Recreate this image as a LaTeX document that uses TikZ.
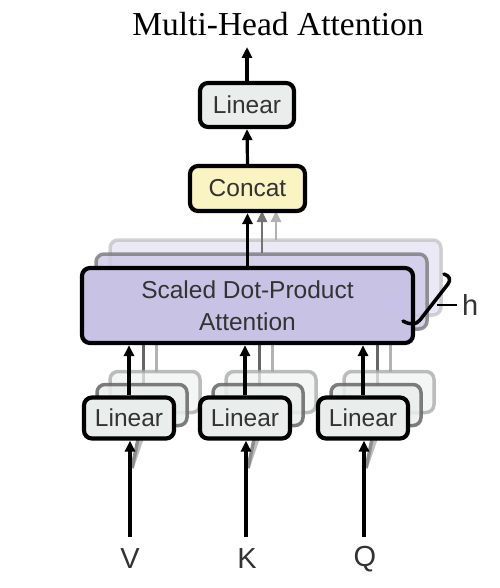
\documentclass[tikz,border=0pt]{standalone}
\usepackage{fontspec}
\setmainfont{Liberation Serif}
\setsansfont{Liberation Sans}
\usetikzlibrary{arrows.meta}
\definecolor{linfill}{HTML}{E9EEEC}
\definecolor{catfill}{HTML}{FAF4C2}
\definecolor{attfill}{HTML}{C8C2E4}
\definecolor{txt}{HTML}{333333}
\tikzset{
  box/.style={draw=black, line width=4.2pt, rounded corners=8pt, inner sep=0pt,
    font=\sffamily\fontsize{24.5}{32}\selectfont, text=txt, align=center},
  linbox/.style={box, fill=linfill, minimum width=90pt, minimum height=41pt},
  shadowA/.style={draw=black!60, fill=linfill, line width=3.5pt, rounded corners=8pt, minimum width=90pt, minimum height=41pt, inner sep=0pt, opacity=0.85},
  shadowB/.style={draw=black!35, fill=linfill!70, line width=3.5pt, rounded corners=8pt, minimum width=90pt, minimum height=41pt, inner sep=0pt, opacity=0.75},
  ashadowA/.style={draw=black!50, fill=attfill!85, line width=3.5pt, rounded corners=8pt, minimum width=331pt, minimum height=75pt, inner sep=0pt, opacity=0.85},
  ashadowB/.style={draw=black!25, fill=attfill!50, line width=3.5pt, rounded corners=8pt, minimum width=331pt, minimum height=75pt, inner sep=0pt, opacity=0.7},
  arr/.style={line width=3.2pt, -{Triangle[length=11pt,width=10pt]}},
  lbl/.style={font=\sffamily\fontsize{29}{31}\selectfont, text=txt},
}
\begin{document}
\begin{tikzpicture}[x=1pt,y=-1pt]
\useasboundingbox (0,0) rectangle (499,588);
\node[font=\fontsize{33.5}{36}\selectfont] (title) at (278,24) {Multi-Head Attention};

% attention shadows
\node[ashadowB] (att2) at (275.5,277.5) {};
\node[ashadowA] (att1) at (261.5,291.5) {};

% arrows into concat
\coordinate (c2) at (276,211);
\coordinate (c1) at (262,211);
\draw[arr, draw=black!30, fill=black!30, line width=2.8pt] (276,240) -- (c2);
\draw[arr, draw=black!55, fill=black!55, line width=2.8pt] (262,253) -- (c1);

% linear shadows and their lines
\foreach \cx/\n in {129/V,245/K,363/Q}{
  \draw[black!30, line width=3pt] (\cx+27,372) -- (\cx+27,343);
  \draw[black!60, line width=3pt] (\cx+14,385) -- (\cx+14,343);
  \draw[black!25, line width=3.5pt] (\cx+3,468) -- (\cx+22,412);
  \draw[black!45, line width=3.5pt] (\cx+3,468) -- (\cx+12,425);
  \node[shadowB] (\n2) at (\cx+26,392) {};
  \node[shadowA] (\n1) at (\cx+13,405) {};
}

% main attention box
\node[box, fill=attfill, minimum width=331pt, minimum height=75pt] (att) at (247.5,305.5) {Scaled Dot-Product\\Attention};

% top boxes
\node[box, fill=catfill, minimum width=115pt, minimum height=45pt] (concat) at (247.5,188.5) {Concat};
\node[linbox, minimum width=94pt, minimum height=44pt] (lintop) at (247,105) {Linear};
\coordinate (out) at (247,47);
\draw[arr] (lintop.north) -- (out);
\draw[arr] (concat.north) -- (lintop.south);
\draw[arr] (att.north -| concat.south) -- (concat.south);

% bottom linear boxes
\node[linbox] (linV) at (129,418) {Linear};
\node[linbox] (linK) at (245,418) {Linear};
\node[linbox] (linQ) at (363,418) {Linear};

\foreach \n in {V,K,Q}{
  \draw[arr] (lin\n.north) -- (lin\n.north |- att.south);
}

% inputs
\node[lbl] (V) at (130,559) {V};
\node[lbl] (K) at (247,559) {K};
\node[lbl] (Q) at (365,559) {Q};
\coordinate (vin) at (130,537);
\coordinate (kin) at (246,537);
\coordinate (qin) at (364,537);
\draw[arr] (vin) -- (vin |- linV.south);
\draw[arr] (kin) -- (kin |- linK.south);
\draw[arr] (qin) -- (qin |- linQ.south);

% h brace
\coordinate (hb) at (437,305);
\coordinate (hh) at (457,305);
\draw[line width=3.5pt, line cap=round, line join=round]
  (444,274) .. controls (450,276) and (451,280) .. (448,284)
  -- (420,320) .. controls (416,325) and (410,325) .. (403,321);
\draw[line width=1.8pt] (hb) -- (hh);
\node[lbl, anchor=west, inner sep=0pt] (h) at (462,305) {h};
\end{tikzpicture}
\end{document}
